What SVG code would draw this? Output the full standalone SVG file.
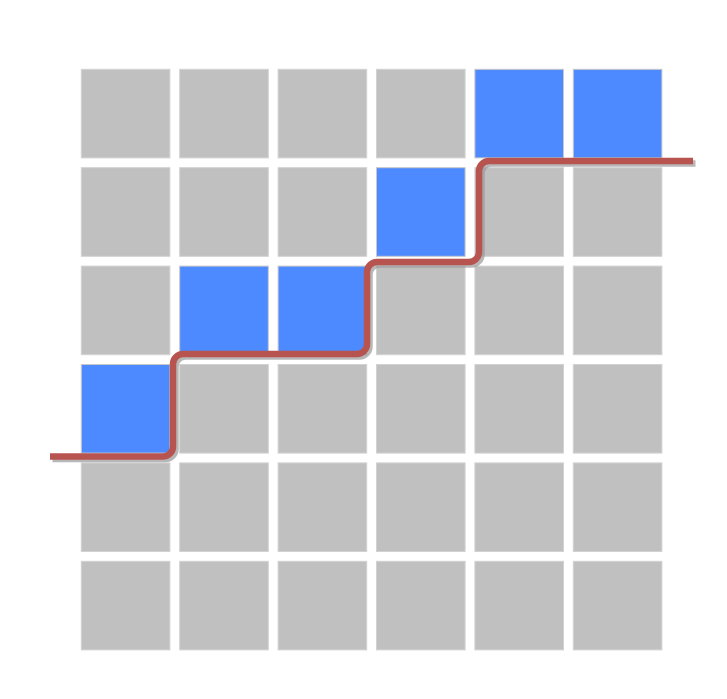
<svg xmlns="http://www.w3.org/2000/svg" width="727" height="699" viewBox="0 0 727 699">
<style>
.c{fill:#c0c0c0;stroke:#d2d2d2;stroke-width:1}
.b{fill:#4d8aff;stroke:#c8c8c8;stroke-width:1}
.ln{fill:none;stroke:#b85450;stroke-width:6.5;stroke-linejoin:round}
.sh{fill:none;stroke:#999;stroke-opacity:0.7;stroke-width:6.5;stroke-linejoin:round}
</style>
<rect width="727" height="699" fill="#fff"/>
<g id="grid">
<g id="r0">
<rect class="c" x="81.3" y="69.3" width="88.6" height="88.6"/>
<rect class="c" x="179.7" y="69.3" width="88.6" height="88.6"/>
<rect class="c" x="278.1" y="69.3" width="88.6" height="88.6"/>
<rect class="c" x="376.5" y="69.3" width="88.6" height="88.6"/>
<rect class="b" x="474.9" y="69.3" width="88.6" height="88.6"/>
<rect class="b" x="573.3" y="69.3" width="88.6" height="88.6"/>
</g>
<g id="r1">
<rect class="c" x="81.3" y="167.7" width="88.6" height="88.6"/>
<rect class="c" x="179.7" y="167.7" width="88.6" height="88.6"/>
<rect class="c" x="278.1" y="167.7" width="88.6" height="88.6"/>
<rect class="b" x="376.5" y="167.7" width="88.6" height="88.6"/>
<rect class="c" x="474.9" y="167.7" width="88.6" height="88.6"/>
<rect class="c" x="573.3" y="167.7" width="88.6" height="88.6"/>
</g>
<g id="r2">
<rect class="c" x="81.3" y="266.1" width="88.6" height="88.6"/>
<rect class="b" x="179.7" y="266.1" width="88.6" height="88.6"/>
<rect class="b" x="278.1" y="266.1" width="88.6" height="88.6"/>
<rect class="c" x="376.5" y="266.1" width="88.6" height="88.6"/>
<rect class="c" x="474.9" y="266.1" width="88.6" height="88.6"/>
<rect class="c" x="573.3" y="266.1" width="88.6" height="88.6"/>
</g>
<g id="r3">
<rect class="b" x="81.3" y="364.5" width="88.6" height="88.6"/>
<rect class="c" x="179.7" y="364.5" width="88.6" height="88.6"/>
<rect class="c" x="278.1" y="364.5" width="88.6" height="88.6"/>
<rect class="c" x="376.5" y="364.5" width="88.6" height="88.6"/>
<rect class="c" x="474.9" y="364.5" width="88.6" height="88.6"/>
<rect class="c" x="573.3" y="364.5" width="88.6" height="88.6"/>
</g>
<g id="r4">
<rect class="c" x="81.3" y="462.9" width="88.6" height="88.6"/>
<rect class="c" x="179.7" y="462.9" width="88.6" height="88.6"/>
<rect class="c" x="278.1" y="462.9" width="88.6" height="88.6"/>
<rect class="c" x="376.5" y="462.9" width="88.6" height="88.6"/>
<rect class="c" x="474.9" y="462.9" width="88.6" height="88.6"/>
<rect class="c" x="573.3" y="462.9" width="88.6" height="88.6"/>
</g>
<g id="r5">
<rect class="c" x="81.3" y="561.3" width="88.6" height="88.6"/>
<rect class="c" x="179.7" y="561.3" width="88.6" height="88.6"/>
<rect class="c" x="278.1" y="561.3" width="88.6" height="88.6"/>
<rect class="c" x="376.5" y="561.3" width="88.6" height="88.6"/>
<rect class="c" x="474.9" y="561.3" width="88.6" height="88.6"/>
<rect class="c" x="573.3" y="561.3" width="88.6" height="88.6"/>
</g>
</g>
<g id="connectors">
<path class="sh" transform="translate(2.5,2.5)" d="M50,456.5 H163 A10,10 0 0 0 173,446.5 V364 A10,10 0 0 1 183,354 H357 A10,10 0 0 0 367,344 V272 A10,10 0 0 1 377,262 H469 A10,10 0 0 0 479,252 V171 A10,10 0 0 1 489,161 H693"/>
<path class="ln" d="M50,456.5 H163 A10,10 0 0 0 173,446.5 V364 A10,10 0 0 1 183,354 H357 A10,10 0 0 0 367,344 V272 A10,10 0 0 1 377,262 H469 A10,10 0 0 0 479,252 V171 A10,10 0 0 1 489,161 H693"/>
</g>
</svg>
